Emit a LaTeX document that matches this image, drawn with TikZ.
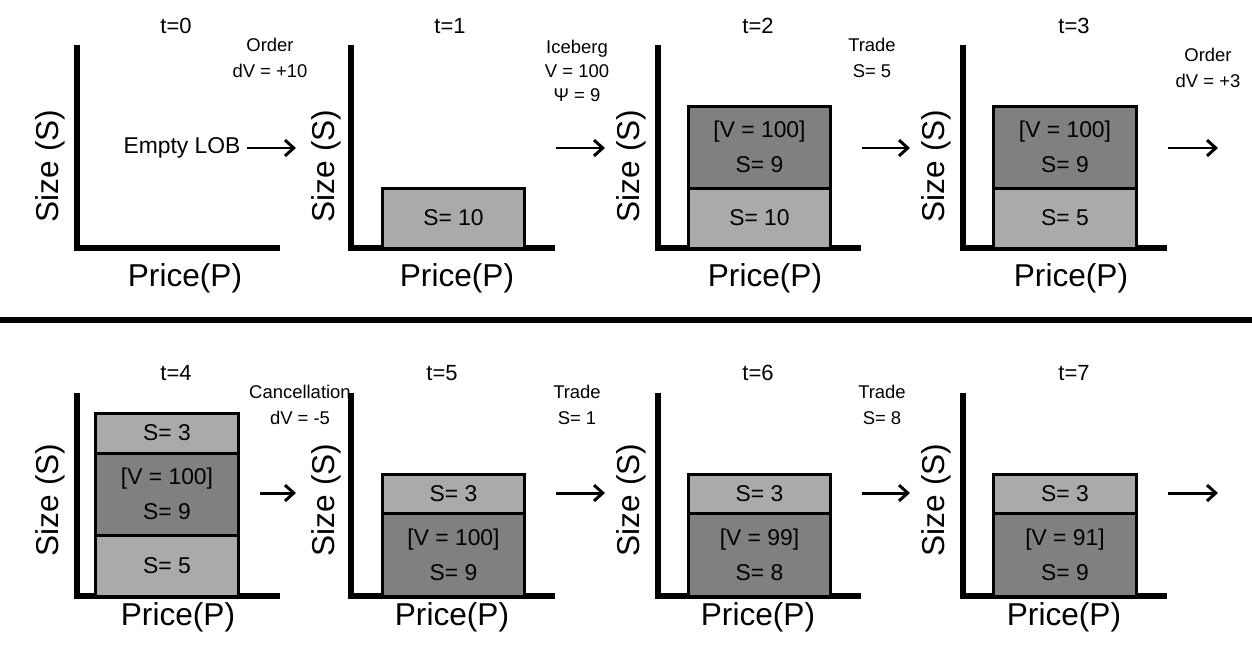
\documentclass[tikz,border=0pt]{standalone}
\usepackage{fontspec}
\setmainfont{Liberation Sans}
\usepackage{xcolor}
\usepackage{tikz}
\usetikzlibrary{arrows.meta}
\definecolor{lightbar}{RGB}{170,170,170}
\definecolor{darkbar}{RGB}{128,128,128}

\begin{document}
\begin{tikzpicture}[x=0.02cm, y=-0.02cm, >={Straight Barb[length=5pt,width=9pt]},
axis/.style={line width=3.3pt, line join=miter},
lite/.style={draw, fill=lightbar, line width=1.7pt, minimum width=2.86cm, inner sep=0pt, align=center, font=\fontsize{13}{20}\selectfont},
dark/.style={lite, fill=darkbar},
sizelbl/.style={rotate=90, font=\fontsize{18}{20}\selectfont},
pricelbl/.style={font=\fontsize{18}{20}\selectfont},
tlbl/.style={font=\fontsize{12.5}{14}\selectfont},
evt/.style={align=center, font=\fontsize{10.5}{15}\selectfont},
go/.style={->, line width=1.7pt}]
\useasboundingbox (0,0) rectangle (1252,653);
% top row
\draw[axis] (77,45) -- (77,248) -- (280,248);
\draw[axis] (351,45) -- (351,248) -- (555,248);
\draw[axis] (658,45) -- (658,248) -- (861,248);
\draw[axis] (963,45) -- (963,248) -- (1167,248);
\node[tlbl] (t0) at (176,26) {t=0};
\node[tlbl] (t1) at (450,26) {t=1};
\node[tlbl] (t2) at (758,26) {t=2};
\node[tlbl] (t3) at (1074,26) {t=3};
\node[sizelbl] (s0) at (50,166) {Size (S)};
\node[sizelbl] (s1) at (326,166) {Size (S)};
\node[sizelbl] (s2) at (631,166) {Size (S)};
\node[sizelbl] (s3) at (936,166) {Size (S)};
\node[pricelbl] (p0) at (185,278) {Price(P)};
\node[pricelbl] (p1) at (457,278) {Price(P)};
\node[pricelbl] (p2) at (765,278) {Price(P)};
\node[pricelbl] (p3) at (1071,278) {Price(P)};
\node[font=\fontsize{13}{15}\selectfont] (empty) at (182,148) {Empty LOB};
\node[lite, minimum height=1.2cm] (b1) at (453.5,218) {S= 10};
\node[dark, minimum height=1.64cm] (b2i) at (759.5,147) {[V = 100]\\S= 9};
\node[lite, minimum height=1.2cm] (b2) at (759.5,218) {S= 10};
\node[dark, minimum height=1.64cm] (b3i) at (1065,147) {[V = 100]\\S= 9};
\node[lite, minimum height=1.2cm] (b3) at (1065,218) {S= 5};
\node[evt] (e0) at (270,58) {Order\\dV = +10};
\node[evt, font=\fontsize{10.5}{13.5}\selectfont] (e1) at (577,71) {Iceberg\\V = 100\\Ψ = 9};
\node[evt] (e2) at (872,58) {Trade\\S= 5};
\node[evt] (e3) at (1208,68) {Order\\dV = +3};
\coordinate (a0) at (296,148);
\coordinate (a1s) at (556,148); \coordinate (a1) at (605,148);
\coordinate (a2s) at (862,148); \coordinate (a2) at (910,148);
\coordinate (a3s) at (1168,148); \coordinate (a3) at (1218,148);
\draw[go] (empty) -- (a0);
\draw[go] (a1s) -- (a1);
\draw[go] (a2s) -- (a2);
\draw[go] (a3s) -- (a3);
\draw[line width=3.4pt] (0,320) -- (1252,320);
% bottom row
\draw[axis] (77,393) -- (77,596) -- (280,596);
\draw[axis] (351,393) -- (351,596) -- (555,596);
\draw[axis] (658,393) -- (658,596) -- (861,596);
\draw[axis] (963,393) -- (963,596) -- (1167,596);
\node[tlbl] (t4) at (176,373) {t=4};
\node[tlbl] (t5) at (442,373) {t=5};
\node[tlbl] (t6) at (758,373) {t=6};
\node[tlbl] (t7) at (1074,373) {t=7};
\node[sizelbl] (s4) at (50,500) {Size (S)};
\node[sizelbl] (s5) at (326,500) {Size (S)};
\node[sizelbl] (s6) at (631,500) {Size (S)};
\node[sizelbl] (s7) at (936,500) {Size (S)};
\node[pricelbl] (p4) at (178,617) {Price(P)};
\node[pricelbl] (p5) at (452,617) {Price(P)};
\node[pricelbl] (p6) at (758,617) {Price(P)};
\node[pricelbl] (p7) at (1064,617) {Price(P)};
\node[lite, minimum height=0.8cm] (b4t) at (167,433) {S= 3};
\node[dark, minimum height=1.64cm] (b4i) at (167,494) {[V = 100]\\S= 9};
\node[lite, minimum height=1.22cm] (b4) at (167,565.5) {S= 5};
\node[lite, minimum height=0.78cm] (b5t) at (453.5,493.5) {S= 3};
\node[dark, minimum height=1.66cm] (b5i) at (453.5,554.5) {[V = 100]\\S= 9};
\node[lite, minimum height=0.78cm] (b6t) at (759.5,493.5) {S= 3};
\node[dark, minimum height=1.66cm] (b6i) at (759.5,554.5) {[V = 99]\\S= 8};
\node[lite, minimum height=0.78cm] (b7t) at (1065,493.5) {S= 3};
\node[dark, minimum height=1.66cm] (b7i) at (1065,554.5) {[V = 91]\\S= 9};
\node[evt] (e4) at (300,405) {Cancellation\\dV = -5};
\node[evt] (e5) at (577,405) {Trade\\S= 1};
\node[evt] (e6) at (882,405) {Trade\\S= 8};
\coordinate (a4s) at (260,493); \coordinate (a4) at (296,493);
\coordinate (a5s) at (556,493); \coordinate (a5) at (605,493);
\coordinate (a6s) at (862,493); \coordinate (a6) at (910,493);
\coordinate (a7s) at (1168,493); \coordinate (a7) at (1218,493);
\draw[go] (a4s) -- (a4);
\draw[go] (a5s) -- (a5);
\draw[go] (a6s) -- (a6);
\draw[go] (a7s) -- (a7);
\end{tikzpicture}
\end{document}
